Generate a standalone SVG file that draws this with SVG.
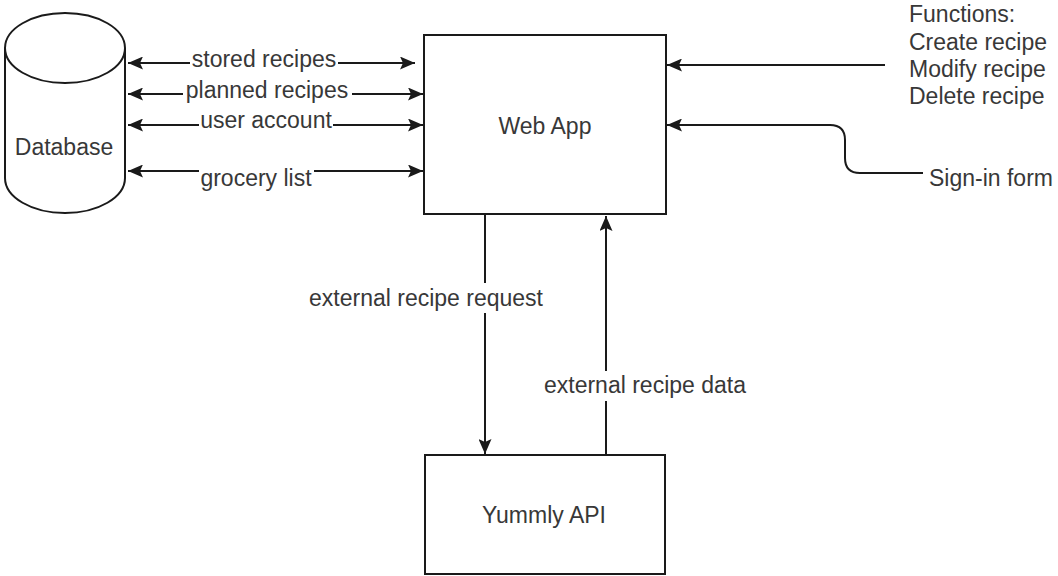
<svg xmlns="http://www.w3.org/2000/svg" width="1058" height="576" viewBox="0 0 1058 576">
<style>
.shape{fill:#fff;stroke:#1a1a1a;stroke-width:2}
.edge{fill:none;stroke:#1a1a1a;stroke-width:2}
.lbl{font-family:"Liberation Sans",Arial,sans-serif;font-size:23px;fill:#383838}
.bg{fill:#fff}
</style>
<defs>
<marker id="arr" markerUnits="userSpaceOnUse" markerWidth="15" markerHeight="13" refX="15" refY="6.5" orient="auto-start-reverse">
<path d="M0,0 L15,6.5 L0,13 L3,6.5 z" fill="#1a1a1a"/>
</marker>
</defs>
<rect width="1058" height="576" fill="#fff"/>
<g id="database">
<path class="shape" d="M5,48 L5,178 A60,35 0 0 0 125,178 L125,48"/>
<ellipse class="shape" cx="65" cy="48" rx="60" ry="35"/>
<text class="lbl" x="64" y="155" text-anchor="middle">Database</text>
</g>
<g id="webapp">
<rect class="shape" x="424" y="35" width="242" height="179"/>
<text class="lbl" x="545" y="134" text-anchor="middle">Web App</text>
</g>
<g id="yummly">
<rect class="shape" x="425" y="455" width="240" height="119"/>
<text class="lbl" x="544" y="523" text-anchor="middle">Yummly API</text>
</g>
<g id="functions">
<text class="lbl" x="909" y="22">Functions:</text>
<text class="lbl" x="909" y="50">Create recipe</text>
<text class="lbl" x="909" y="77">Modify recipe</text>
<text class="lbl" x="909" y="104">Delete recipe</text>
</g>
<g id="signin">
<text class="lbl" x="929" y="186">Sign-in form</text>
</g>
<g id="connectors">
<path class="edge" d="M128,63 L415,63" marker-start="url(#arr)" marker-end="url(#arr)"/>
<path class="edge" d="M128,94 L423,94" marker-start="url(#arr)" marker-end="url(#arr)"/>
<path class="edge" d="M128,125 L423,125" marker-start="url(#arr)" marker-end="url(#arr)"/>
<path class="edge" d="M128,171 L423,171" marker-start="url(#arr)" marker-end="url(#arr)"/>
<path class="edge" d="M885,65 L667,65" marker-end="url(#arr)"/>
<path class="edge" d="M923,173 L860,173 Q845,173 845,158 L845,140 Q845,125 830,125 L667,125" marker-end="url(#arr)"/>
<path class="edge" d="M485,215 L485,454" marker-end="url(#arr)"/>
<path class="edge" d="M606,455 L606,216" marker-end="url(#arr)"/>
<rect class="bg" x="190" y="48" width="148" height="24"/>
<text class="lbl" x="264" y="67" text-anchor="middle">stored recipes</text>
<rect class="bg" x="183" y="80" width="169" height="22"/>
<text class="lbl" x="267" y="98" text-anchor="middle">planned recipes</text>
<rect class="bg" x="199" y="110" width="134" height="20"/>
<text class="lbl" x="266" y="128" text-anchor="middle">user account</text>
<rect class="bg" x="199" y="166" width="115" height="26"/>
<text class="lbl" x="256" y="186" text-anchor="middle">grocery list</text>
<rect class="bg" x="304" y="283" width="246" height="30"/>
<text class="lbl" x="426" y="306" text-anchor="middle">external recipe request</text>
<rect class="bg" x="538" y="371" width="214" height="30"/>
<text class="lbl" x="645" y="393" text-anchor="middle">external recipe data</text>
</g>
</svg>
